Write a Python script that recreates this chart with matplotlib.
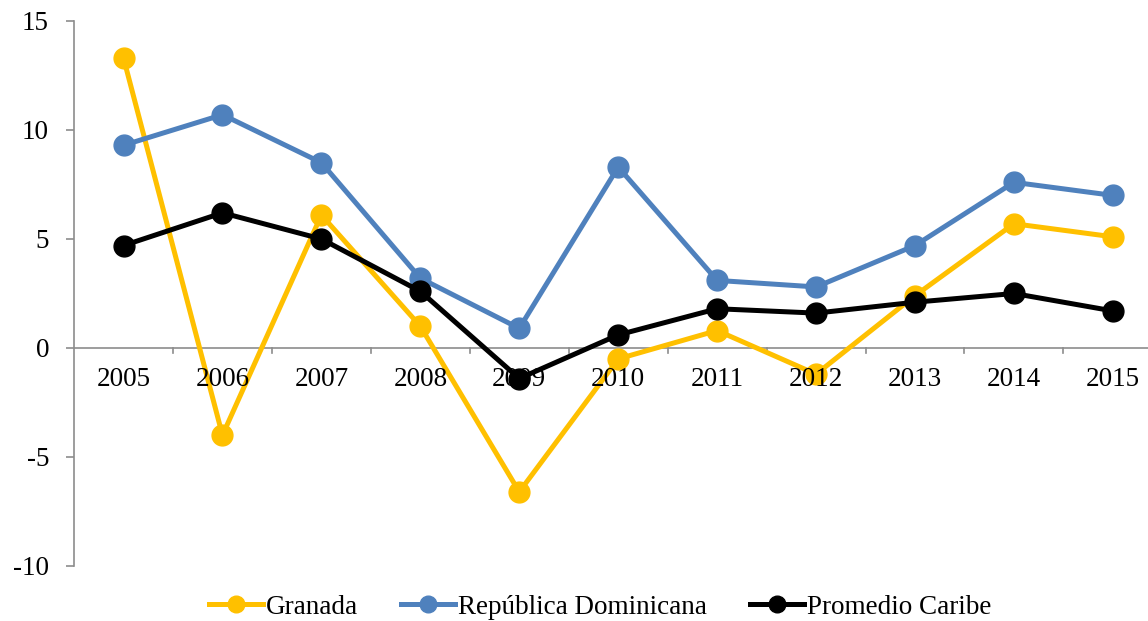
import matplotlib
matplotlib.use("Agg")
import matplotlib.pyplot as plt
import numpy as np

years = ["2005", "2006", "2007", "2008", "2009", "2010", "2011", "2012", "2013", "2014", "2015"]
granada = [13.3, -4.0, 6.1, 1.0, -6.6, -0.5, 0.8, -1.2, 2.4, 5.7, 5.1]
rep_dom = [9.3, 10.7, 8.5, 3.2, 0.9, 8.3, 3.1, 2.8, 4.7, 7.6, 7.0]
promedio = [4.7, 6.2, 5.0, 2.6, -1.4, 0.6, 1.8, 1.6, 2.1, 2.5, 1.7]

plt.rcParams['font.family'] = ['Liberation Serif', 'DejaVu Serif']

fig = plt.figure(figsize=(11.48, 6.21), dpi=100)
ax = fig.add_axes([0.0645, 0.0886, 0.948, 0.8776])

x = np.arange(len(years))
ax.plot(x, granada, color='#FFC000', lw=3.6, marker='o', ms=15, label='Granada', zorder=3)
ax.plot(x, rep_dom, color='#4F81BD', lw=3.6, marker='o', ms=15, label='República Dominicana', zorder=3)
ax.plot(x, promedio, color='#000000', lw=3.6, marker='o', ms=15, label='Promedio Caribe', zorder=4)

ax.set_xlim(-0.5, len(years) - 0.5)
ax.set_ylim(-10, 15)
ax.set_yticks([-10, -5, 0, 5, 10, 15])
ax.set_yticklabels(['-10', '-5', '0', '5', '10', '15'], fontsize=19.5)

for s in ['top', 'right', 'bottom']:
    ax.spines[s].set_visible(False)
ax.spines['left'].set_color('#8C8C8C')
ax.spines['left'].set_linewidth(1.2)
ax.tick_params(axis='y', length=6, color='#8C8C8C', width=1.2, pad=12)

ax.axhline(0, color='#8C8C8C', lw=1.2, zorder=1)
ax.set_xticks([])
for xi in np.arange(0.5, len(years) - 0.5 + 0.01, 1.0):
    ax.plot([xi, xi], [0, -0.25], color='#8C8C8C', lw=1.2, zorder=1, clip_on=False)
for xi, lab in zip(x, years):
    ax.text(xi, -1.45, lab, ha='center', va='center', fontsize=19.5)

leg = fig.legend(loc='center', bbox_to_anchor=(0.5226, 0.0225), ncol=3, frameon=False,
                 fontsize=19.5, handlelength=2.0, handletextpad=0.1, columnspacing=1.6,
                 markerscale=0.8, borderpad=0, borderaxespad=0)

fig.savefig('out.png', dpi=100)
